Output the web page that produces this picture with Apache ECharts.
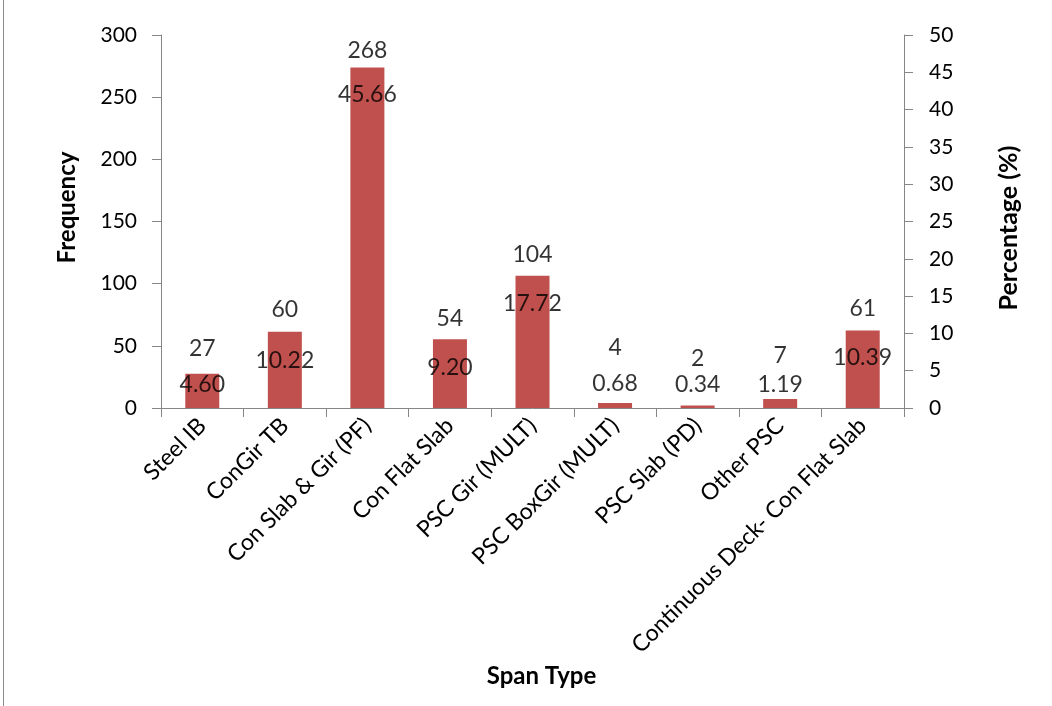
<!DOCTYPE html>
<html>
<head>
<meta charset="utf-8">
<script src="https://cdn.jsdelivr.net/npm/echarts@6/dist/echarts.min.js"></script>
<style>
html,body{margin:0;padding:0;background:#fff;}
#chart{width:1052px;height:706px;}
</style>
</head>
<body>
<div id="chart"></div>
<script>
// ---- data ----
var categories = ["Steel IB", "ConGir TB", "Con Slab & Gir (PF)", "Con Flat Slab", "PSC Gir (MULT)", "PSC BoxGir (MULT)", "PSC Slab (PD)", "Other PSC", "Continuous Deck- Con Flat Slab"];
var frequency = [27, 60, 268, 54, 104, 4, 2, 7, 61];
var percentage = [4.60, 10.22, 45.66, 9.20, 17.72, 0.68, 0.34, 1.19, 10.39];
var freqTicks = [0, 50, 100, 150, 200, 250, 300];
var pctTicks = [0, 5, 10, 15, 20, 25, 30, 35, 40, 45, 50];

// label placement (style only: vertical offsets in px, as hand-placed in the original)
var freqLabelDy = [-25, -22, -17, -21, -21, -55, -47, -44, -22];
var pctLabelDy = [11, 29, 27, 28, 28, -19, -21, -15, 27];

var FONT = 'Lato';
var chart = echarts.init(document.getElementById('chart'), null, {renderer: 'canvas'});

function labelSeries(name, texts, dys) {
  return {
    name: name,
    type: 'scatter',
    yAxisIndex: 1,
    symbolSize: 0,
    silent: true,
    z: 5,
    data: percentage.map(function (p, i) {
      return {
        value: p,
        label: {
          show: true,
          position: 'inside',
          offset: [0, dys[i]],
          formatter: texts[i],
          color: '#000',
          fontFamily: FONT,
          fontSize: 23
        }
      };
    })
  };
}

var option = {
  animation: false,
  backgroundColor: '#fff',
  textStyle: {fontFamily: FONT},
  grid: {left: 161, right: 148, top: 35, bottom: 298, containLabel: false},
  xAxis: {
    type: 'category',
    data: categories,
    boundaryGap: true,
    name: 'Span Type',
    nameLocation: 'middle',
    nameGap: 243,
    nameTextStyle: {fontFamily: FONT, fontSize: 24, fontWeight: 'bold', color: '#000', padding: [0, 0, 0, 18]},
    axisLine: {show: true, lineStyle: {color: '#868686', width: 1}},
    axisTick: {show: true, length: 9, alignWithLabel: false, lineStyle: {color: '#868686'}},
    axisLabel: {interval: 0, rotate: 45, margin: 14, fontFamily: FONT, fontSize: 23, color: '#000'},
    splitLine: {show: false}
  },
  yAxis: [
    {
      type: 'value',
      position: 'left',
      min: freqTicks[0],
      max: freqTicks[freqTicks.length - 1],
      interval: freqTicks[1] - freqTicks[0],
      name: 'Frequency',
      nameLocation: 'middle',
      nameGap: 82,
      nameRotate: 90,
      nameTextStyle: {fontFamily: FONT, fontSize: 24, fontWeight: 'bold', color: '#000', padding: [0, 0, 0, 28]},
      axisLine: {show: true, lineStyle: {color: '#868686', width: 1}},
      axisTick: {show: true, length: 9, lineStyle: {color: '#868686'}},
      axisLabel: {margin: 24, fontFamily: FONT, fontSize: 21, color: '#000'},
      splitLine: {show: false}
    },
    {
      type: 'value',
      position: 'right',
      min: pctTicks[0],
      max: pctTicks[pctTicks.length - 1],
      interval: pctTicks[1] - pctTicks[0],
      name: 'Percentage (%)',
      nameLocation: 'middle',
      nameGap: 92,
      nameRotate: 90,
      nameTextStyle: {fontFamily: FONT, fontSize: 25, fontWeight: 'bold', color: '#000', padding: [0, 13, 0, 0]},
      axisLine: {show: true, lineStyle: {color: '#868686', width: 1}},
      axisTick: {show: true, length: 9, lineStyle: {color: '#868686'}},
      axisLabel: {margin: 25, fontFamily: FONT, fontSize: 21, color: '#000'},
      splitLine: {show: false}
    }
  ],
  series: [
    {
      name: 'Percentage',
      type: 'bar',
      yAxisIndex: 1,
      data: percentage,
      barWidth: 34,
      itemStyle: {color: '#C0504D'},
      label: {show: false}
    },
    labelSeries('FreqLabels', frequency.map(String), freqLabelDy),
    labelSeries('PctLabels', percentage.map(function (p) { return p.toFixed(2); }), pctLabelDy)
  ],
  graphic: [
    {type: 'line', shape: {x1: 3.5, y1: 0, x2: 3.5, y2: 706}, style: {stroke: '#8c8c8c', lineWidth: 1}, silent: true}
  ]
};
chart.setOption(option);
</script>
</body>
</html>
